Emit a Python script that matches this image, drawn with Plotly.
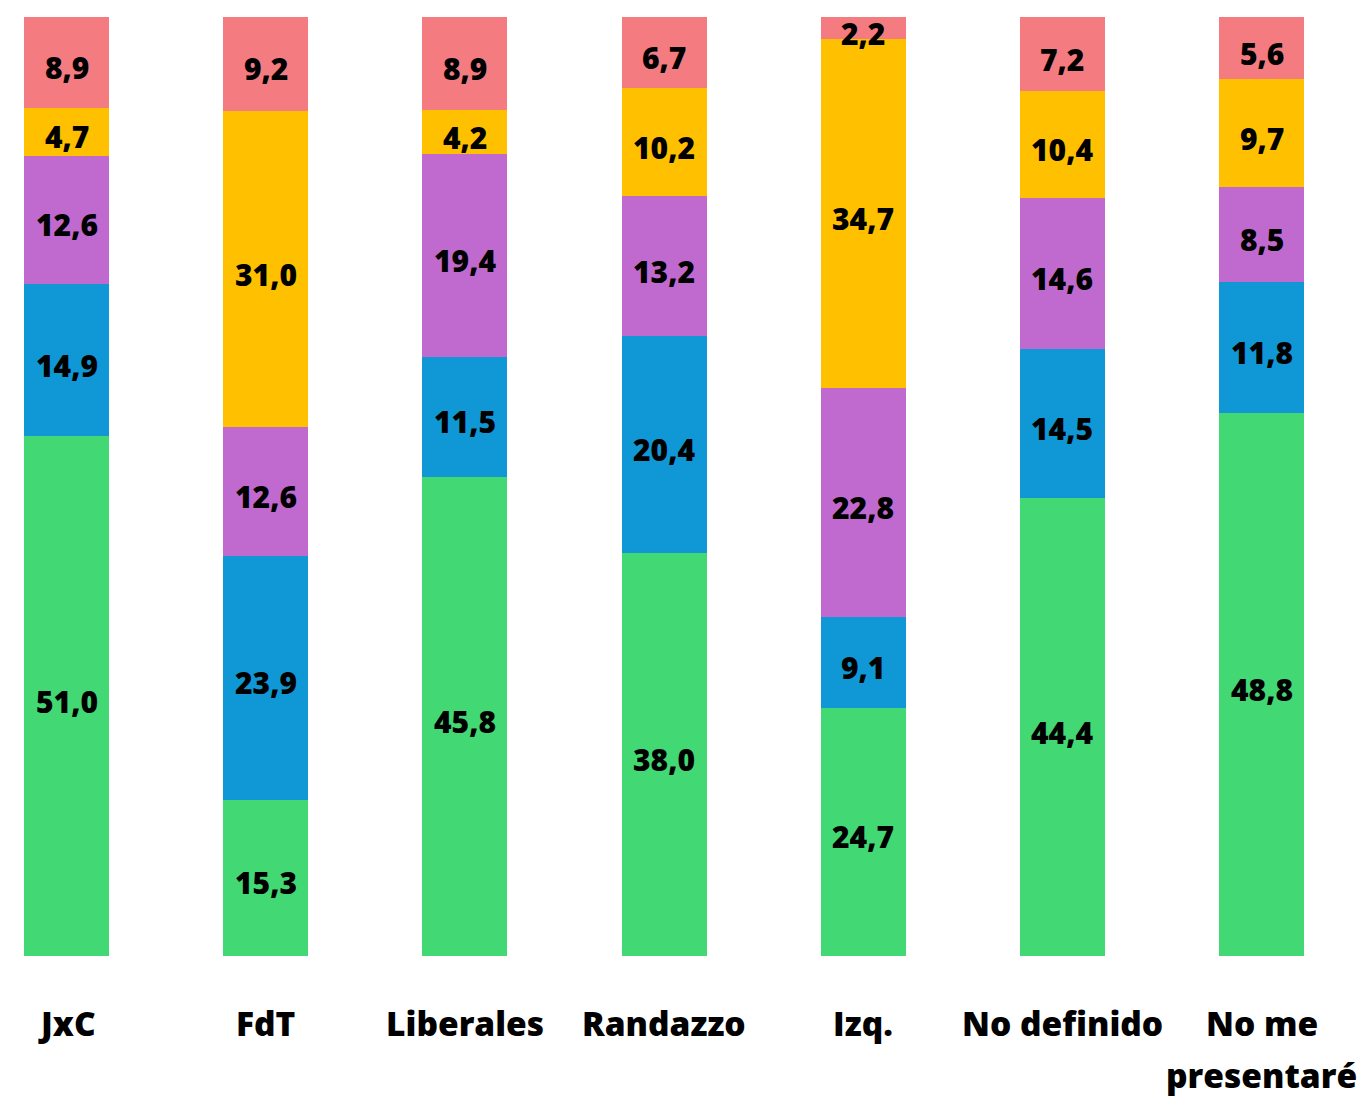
import plotly.graph_objects as go

categories = ["JxC", "FdT", "Liberales", "Randazzo", "Izq.", "No definido", "No me<br>presentaré"]

# stacked from bottom to top
serie_verde = [51.0, 15.3, 45.8, 38.0, 24.7, 44.4, 48.8]
serie_azul = [14.9, 23.9, 11.5, 20.4, 9.1, 14.5, 11.8]
serie_violeta = [12.6, 12.6, 19.4, 13.2, 22.8, 14.6, 8.5]
serie_amarilla = [4.7, 31.0, 4.2, 10.2, 34.7, 10.4, 9.7]
serie_rosa = [8.9, 9.2, 8.9, 6.7, 2.2, 7.2, 5.6]

series = [
    ("Serie 1", serie_verde, "#42D874"),
    ("Serie 2", serie_azul, "#1097D6"),
    ("Serie 3", serie_violeta, "#C06AD0"),
    ("Serie 4", serie_amarilla, "#FFC000"),
    ("Serie 5", serie_rosa, "#F47C80"),
]

FONT = "Open Sans"

fig = go.Figure()
for name, vals, color in series:
    fig.add_trace(go.Bar(
        x=categories,
        y=vals,
        name=name,
        marker=dict(color=color, line=dict(width=0)),
        hoverinfo="skip",
    ))

# value labels centered in each (normalized) segment
totals = [sum(s[1][i] for s in series) for i in range(len(categories))]
for i, cat in enumerate(categories):
    base = 0.0
    for name, vals, color in series:
        pct = vals[i] / totals[i] * 100
        fig.add_annotation(
            x=cat, y=base + pct / 2, xref="x", yref="y",
            text=f"{vals[i]:.1f}".replace(".", ","),
            showarrow=False,
            font=dict(family=FONT, size=30, color="black", weight=800),
            yshift=-5,
        )
        base += pct

# category labels below the bars
for cat in categories:
    for j, line in enumerate(cat.split("<br>")):
        fig.add_annotation(
            x=cat, y=0, xref="x", yref="paper",
            text=line, showarrow=False,
            yanchor="middle", xanchor="center",
            yshift=-67 - 52 * j,
            font=dict(family=FONT, size=33.5, color="black", weight=800),
        )

fig.update_layout(
    barmode="stack",
    barnorm="percent",
    bargap=0.5732,
    width=1358,
    height=1101,
    margin=dict(l=0, r=0, t=17, b=145),
    paper_bgcolor="white",
    plot_bgcolor="white",
    showlegend=False,
    xaxis=dict(
        range=[-0.3339, 6.4845],
        showgrid=False,
        showline=False,
        zeroline=False,
        ticks="",
        showticklabels=False,
        automargin=False,
    ),
    yaxis=dict(
        range=[0, 100],
        visible=False,
        showgrid=False,
        zeroline=False,
        automargin=False,
    ),
)

fig.write_html(
    "out.html",
    config={"displayModeBar": False},
    post_script="document.body.style.margin='0';",
)
